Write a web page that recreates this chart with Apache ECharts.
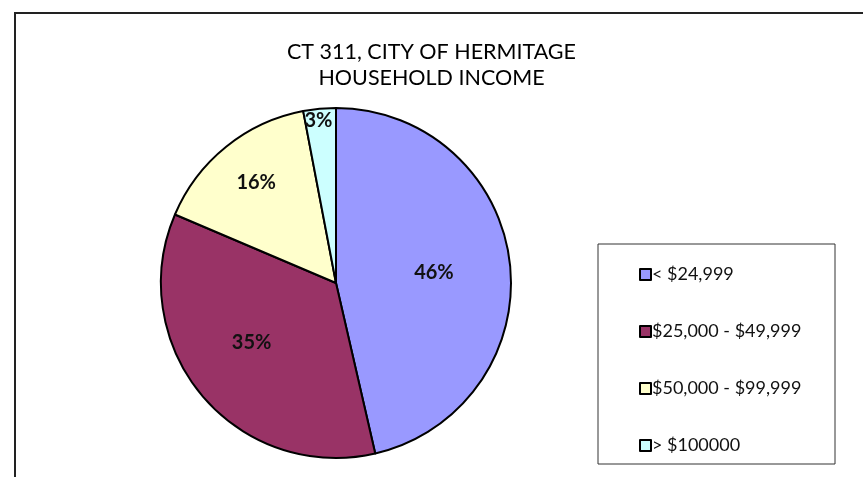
<!DOCTYPE html>
<html>
<head>
<meta charset="utf-8">
<script src="https://cdn.jsdelivr.net/npm/echarts@6/dist/echarts.min.js"></script>
<style>
  html, body { margin: 0; padding: 0; background: #fff; }
  #chart { width: 863px; height: 477px; }
</style>
</head>
<body>
<div id="chart"></div>
<script>
// income brackets and their share of households (percent)
const categories = ["< $24,999", "$25,000 - $49,999", "$50,000 - $99,999", "> $100000"];
const shares = [46.4, 35.0, 15.6, 3.0];
const colors = ["#9999FF", "#993366", "#FFFFCC", "#CCFFFF"];
// nudges for the in-slice labels, Excel-style "best fit"
const labelNudge = [[8, 0], [-15, 1], [-23, -30], [-9, -72]];

const chart = echarts.init(document.getElementById("chart"));

chart.setOption({
  animation: false,
  backgroundColor: "#fff",
  title: {
    text: "CT 311, CITY OF HERMITAGE\nHOUSEHOLD INCOME",
    left: "center",
    top: 34,
    textStyle: {
      fontFamily: "Lato",
      fontSize: 21.5,
      fontWeight: "normal",
      lineHeight: 26,
      color: "#000"
    }
  },
  graphic: [
    // outer chart frame (runs off the right/bottom)
    {
      type: "rect",
      shape: { x: 15, y: 13, width: 900, height: 500 },
      style: { fill: "none", stroke: "#222", lineWidth: 2 },
      silent: true
    },
    // legend frame
    {
      type: "rect",
      shape: { x: 598, y: 244, width: 237, height: 220 },
      style: { fill: "#fff", stroke: "#333", lineWidth: 1 },
      silent: true,
      z: -1
    }
  ],
  legend: {
    orient: "vertical",
    left: 634,
    top: 260,
    itemWidth: 11,
    itemHeight: 11,
    itemGap: 38,
    icon: "rect",
    itemStyle: { borderColor: "#000", borderWidth: 2 },
    textStyle: {
      fontFamily: "Lato",
      fontSize: 18,
      lineHeight: 19,
      color: "#111",
      padding: [0, 0, 0, -4]
    },
    data: categories
  },
  series: [{
    type: "pie",
    center: [336, 283],
    radius: 175,
    startAngle: 90,
    clockwise: true,
    avoidLabelOverlap: false,
    itemStyle: { borderColor: "#000", borderWidth: 2 },
    label: {
      position: "inside",
      fontFamily: "Lato",
      fontSize: 20,
      fontWeight: "bold",
      color: "#111",
      formatter: p => Math.round(p.value) + "%"
    },
    labelLine: { show: false },
    emphasis: { disabled: true },
    data: categories.map((name, i) => ({
      name,
      value: shares[i],
      itemStyle: { color: colors[i] },
      label: { offset: labelNudge[i] }
    }))
  }]
});
</script>
</body>
</html>
